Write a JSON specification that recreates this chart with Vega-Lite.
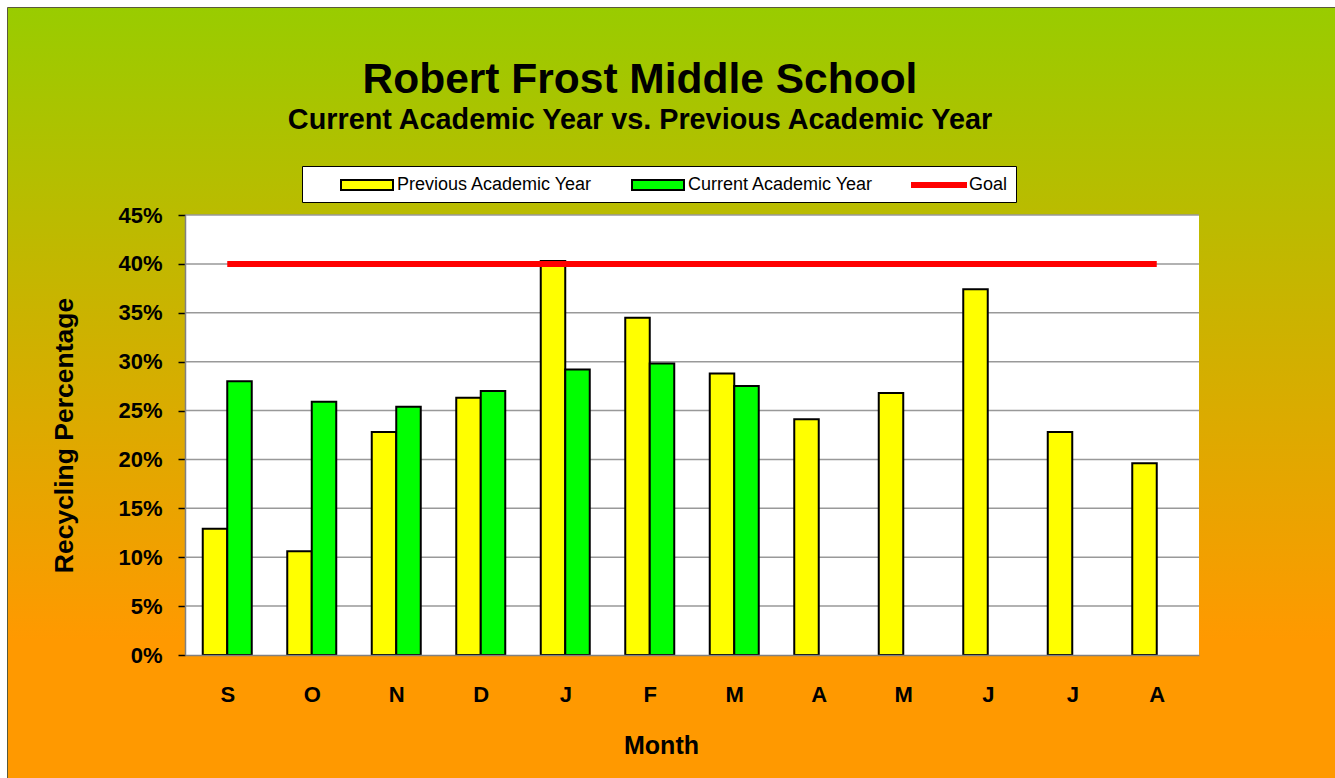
{
  "$schema": "https://vega.github.io/schema/vega-lite/v6.json",
  "width": 1328,
  "height": 771,
  "autosize": "none",
  "padding": {"left": 7, "top": 7, "right": 0, "bottom": 0},
  "background": "#ffffff",
  "title": {
    "text": "Robert Frost Middle School",
    "subtitle": "Current Academic Year vs. Previous Academic Year",
    "anchor": "middle",
    "frame": "group",
    "orient": "top",
    "offset": -128,
    "dx": -31,
    "font": "Liberation Sans",
    "fontSize": 42.5,
    "fontWeight": "bold",
    "color": "#000000",
    "subtitleFont": "Liberation Sans",
    "subtitleFontSize": 28.8,
    "subtitleFontWeight": "bold",
    "subtitleColor": "#000000",
    "subtitlePadding": 5
  },
  "data": {
    "values": [
      {"m": "S", "i": 0, "prev": 0.129, "curr": 0.280, "goal": 0.40},
      {"m": "O", "i": 1, "prev": 0.106, "curr": 0.259, "goal": 0.40},
      {"m": "N", "i": 2, "prev": 0.228, "curr": 0.254, "goal": 0.40},
      {"m": "D", "i": 3, "prev": 0.263, "curr": 0.270, "goal": 0.40},
      {"m": "J", "i": 4, "prev": 0.403, "curr": 0.292, "goal": 0.40},
      {"m": "F", "i": 5, "prev": 0.345, "curr": 0.298, "goal": 0.40},
      {"m": "M", "i": 6, "prev": 0.288, "curr": 0.275, "goal": 0.40},
      {"m": "A", "i": 7, "prev": 0.241, "curr": null, "goal": 0.40},
      {"m": "M", "i": 8, "prev": 0.268, "curr": null, "goal": 0.40},
      {"m": "J", "i": 9, "prev": 0.374, "curr": null, "goal": 0.40},
      {"m": "J", "i": 10, "prev": 0.228, "curr": null, "goal": 0.40},
      {"m": "A", "i": 11, "prev": 0.196, "curr": null, "goal": 0.40}
    ]
  },
  "resolve": {"legend": {"color": "independent"}},
  "layer": [
    {
      "data": {"values": [{}]},
      "mark": {"type": "rect", "fill": "#ffffff", "stroke": null},
      "encoding": {
        "x": {
          "datum": -0.5, "type": "quantitative", "title": "Month",
          "scale": {"domain": [-0.5, 11.5], "range": [178, 1192], "nice": false, "zero": false, "padding": 0},
          "axis": {
            "values": [0, 1, 2, 3, 4, 5, 6, 7, 8, 9, 10, 11],
            "labelExpr": "['S','O','N','D','J','F','M','A','M','J','J','A'][datum.value]",
            "grid": false, "ticks": false, "tickSize": 0,
            "domainColor": "#808080", "domainWidth": 1.5,
            "labelFont": "Liberation Sans", "labelFontSize": 22, "labelFontWeight": "bold", "labelColor": "#000000",
            "labelPadding": 29, "labelFlush": false, "labelOverlap": false, "labelBound": false,
            "title": "Month", "titleFont": "Liberation Sans", "titleFontSize": 25, "titleFontWeight": "bold", "titleColor": "#000000",
            "titleX": 654, "titleY": 78, "titleBaseline": "top",
            "offset": -123, "zindex": 1
          }
        },
        "x2": {"datum": 11.5},
        "y": {
          "datum": 0, "type": "quantitative", "title": "Recycling Percentage",
          "scale": {"domain": [0, 0.45], "range": [648, 208], "nice": false, "zero": true, "padding": 0},
          "axis": {
            "values": [0, 0.05, 0.1, 0.15, 0.2, 0.25, 0.3, 0.35, 0.4, 0.45],
            "format": ".0%",
            "grid": false, "tickSize": 7, "tickColor": "#000000", "tickWidth": 1.5,
            "domainColor": "#808080", "domainWidth": 1.5,
            "labelFont": "Liberation Sans", "labelFontSize": 22, "labelFontWeight": "bold", "labelColor": "#000000",
            "labelPadding": 16, "labelOverlap": false, "labelBound": false,
            "title": "Recycling Percentage", "titleFont": "Liberation Sans", "titleFontSize": 26.5, "titleFontWeight": "bold", "titleColor": "#000000",
            "titleX": -121, "titleY": 428, "titleBaseline": "middle", "titleAngle": -90,
            "offset": -178, "zindex": 1
          }
        },
        "y2": {"datum": 0.45}
      }
    },
    {
      "data": {"values": [{"g": 0.05}, {"g": 0.1}, {"g": 0.15}, {"g": 0.2}, {"g": 0.25}, {"g": 0.3}, {"g": 0.35}, {"g": 0.4}, {"g": 0.45}]},
      "mark": {"type": "rule", "stroke": "#999999", "strokeWidth": 1.5},
      "encoding": {
        "x": {"datum": -0.5, "type": "quantitative", "title": "Month", "scale": {"domain": [-0.5, 11.5], "range": [178, 1192], "nice": false, "zero": false, "padding": 0}},
        "x2": {"datum": 11.5},
        "y": {"field": "g", "type": "quantitative", "title": "Recycling Percentage", "scale": {"domain": [0, 0.45], "range": [648, 208], "nice": false, "zero": true, "padding": 0}}
      }
    },
    {
      "mark": {"type": "bar", "orient": "vertical", "width": 24.5, "xOffset": -12.25, "stroke": "#000000", "strokeWidth": 2},
      "encoding": {
        "x": {"field": "i", "type": "quantitative", "title": "Month", "scale": {"domain": [-0.5, 11.5], "range": [178, 1192], "nice": false, "zero": false, "padding": 0}},
        "y": {"field": "prev", "type": "quantitative", "title": "Recycling Percentage", "scale": {"domain": [0, 0.45], "range": [648, 208], "nice": false, "zero": true, "padding": 0}},
        "color": {
          "datum": "Previous Academic Year", "type": "nominal",
          "scale": {"domain": ["Previous Academic Year", "Current Academic Year", "Goal"], "range": ["#FFFF00", "#00FF00", "#FF0000"]},
          "legend": {
            "title": null, "orient": "none", "legendX": 295, "legendY": 159,
            "direction": "horizontal", "columns": 3,
            "fillColor": "#ffffff", "strokeColor": "#000000", "padding": 8,
            "symbolSize": 400, "symbolStrokeWidth": 2, "symbolOffset": 46,
            "symbolOpacity": 1,
            "symbolType": {"expr": "datum.value === 'Goal' ? 'M-2.7,-0.2H2.7V0.2H-2.7Z' : 'M-2.6,-0.5H2.6V0.5H-2.6Z'"},
            "symbolStrokeColor": {"expr": "datum.value === 'Goal' ? '#FF0000' : '#000000'"},
            "labelOffset": 19, "columnPadding": 8,
            "labelFont": "Liberation Sans", "labelFontSize": 18, "labelColor": "#000000", "labelLimit": 400
          }
        }
      }
    },
    {
      "mark": {"type": "bar", "orient": "vertical", "width": 24.5, "xOffset": 12.25, "stroke": "#000000", "strokeWidth": 2},
      "encoding": {
        "x": {"field": "i", "type": "quantitative", "title": "Month", "scale": {"domain": [-0.5, 11.5], "range": [178, 1192], "nice": false, "zero": false, "padding": 0}},
        "y": {"field": "curr", "type": "quantitative", "title": "Recycling Percentage", "scale": {"domain": [0, 0.45], "range": [648, 208], "nice": false, "zero": true, "padding": 0}},
        "color": {"datum": "Current Academic Year", "type": "nominal", "legend": null}
      }
    },
    {
      "mark": {"type": "line", "strokeWidth": 6, "strokeCap": "butt"},
      "encoding": {
        "x": {"field": "i", "type": "quantitative", "title": "Month", "scale": {"domain": [-0.5, 11.5], "range": [178, 1192], "nice": false, "zero": false, "padding": 0}},
        "y": {"field": "goal", "type": "quantitative", "title": "Recycling Percentage", "scale": {"domain": [0, 0.45], "range": [648, 208], "nice": false, "zero": true, "padding": 0}},
        "color": {"datum": "Goal", "type": "nominal", "legend": null}
      }
    }
  ],
  "config": {
    "font": "Liberation Sans",
    "view": {
      "fill": {
        "gradient": "linear", "x1": 0, "y1": 0, "x2": 0, "y2": 1,
        "stops": [
          {"offset": 0, "color": "#99CC00"},
          {"offset": 0.82, "color": "#FF9900"},
          {"offset": 1, "color": "#FF9900"}
        ]
      },
      "stroke": "#5a5a3a",
      "strokeWidth": 1
    }
  }
}
